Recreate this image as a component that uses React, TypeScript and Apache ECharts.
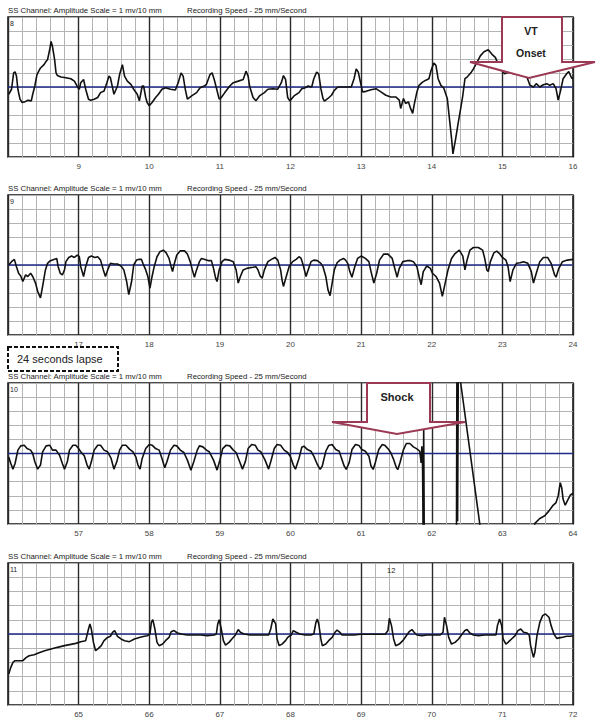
import React, { useEffect, useRef } from "react";
import * as echarts from "echarts";

// time window of each strip (seconds)
const stripStart = [8, 16, 56, 64];
const stripEnd = [16, 24, 64, 72];
const stripTop = [17, 195, 383, 563];
const stripNumbers = ["8", "9", "10", "11"];
const headerLeft = "SS Channel: Amplitude Scale = 1 mv/10 mm";
const headerRight = "Recording Speed - 25 mm/Second";

// ECG trace samples: [time (s), amplitude (grid units, 1 = 5 mm)]
const strip1: number[][] = [
  [8.01, -0.52], [8.05, -0.16], [8.08, 1.01], [8.10, 1.08], [8.12, 0.78], [8.14, -0.16], [8.17, -0.87], [8.20, -1.11],
  [8.24, -1.06], [8.28, -0.94], [8.33, -0.99], [8.35, -0.52], [8.38, 0.07], [8.41, 0.89], [8.46, 1.36], [8.51, 1.60],
  [8.54, 1.84], [8.56, 1.95], [8.59, 2.66], [8.61, 3.25], [8.63, 2.89], [8.66, 1.95], [8.68, 1.01], [8.70, 0.82],
  [8.75, 0.71], [8.82, 0.66], [8.89, 0.59], [8.94, 0.42], [8.99, -0.05], [9.01, -0.16], [9.03, 0.31], [9.07, 0.54],
  [9.10, -0.16], [9.14, -0.87], [9.17, -0.94], [9.22, -0.87], [9.27, -0.75], [9.31, -0.40], [9.36, -0.28], [9.40, 0.31],
  [9.43, 0.78], [9.45, 0.66], [9.48, -0.05], [9.50, -0.52], [9.55, 0.07], [9.58, 0.89], [9.62, 1.60], [9.65, 0.78],
  [9.69, 0.42], [9.74, 0.19], [9.78, -0.16], [9.83, -0.52], [9.86, -0.99], [9.90, 0.07], [9.92, 0.07], [9.95, -0.75],
  [9.97, -1.11], [10.00, -1.34], [10.04, -1.11], [10.09, -0.75], [10.13, -0.52], [10.18, -0.16], [10.23, -0.05], [10.30, -0.16],
  [10.37, -0.21], [10.41, 0.31], [10.45, 1.01], [10.48, 0.78], [10.51, -0.16], [10.54, -0.87], [10.60, -0.64], [10.67, -0.40],
  [10.72, -0.05], [10.78, 0.07], [10.81, 0.19], [10.86, 0.89], [10.89, 1.01], [10.92, 0.54], [10.95, -0.05], [10.99, -0.87],
  [11.02, -0.75], [11.07, -0.40], [11.14, 0.07], [11.19, 0.31], [11.26, 0.42], [11.33, 0.54], [11.37, 1.13], [11.40, 0.78],
  [11.42, 0.07], [11.47, -0.75], [11.51, -0.99], [11.56, -0.64], [11.63, -0.40], [11.68, -0.16], [11.75, -0.12], [11.82, -0.16],
  [11.87, 0.31], [11.90, 0.82], [11.93, 0.54], [11.96, -0.75], [11.99, -0.99], [12.05, -0.64], [12.12, -0.40], [12.16, -0.12],
  [12.20, -0.07], [12.25, 0.07], [12.30, 0], [12.33, 0.59], [12.37, 1.06], [12.40, 0.94], [12.43, -0.12], [12.46, -0.82],
  [12.48, -1.01], [12.53, -0.82], [12.58, -0.59], [12.62, -0.24], [12.67, 0], [12.77, 0], [12.86, 0], [12.90, 0.59],
  [12.93, 1.29], [12.96, 1.06], [12.99, 0.35], [13.02, -0.35], [13.07, -0.31], [13.14, -0.19], [13.21, -0.12], [13.28, -0.35],
  [13.35, -0.59], [13.42, -0.71], [13.49, -0.71], [13.54, -0.94], [13.56, -1.53], [13.60, -0.82], [13.63, -1.18], [13.67, -1.06],
  [13.70, -1.53], [13.73, -1.88], [13.75, -1.29], [13.79, -0.35], [13.82, 0.12], [13.87, 0.35], [13.91, 0.47], [13.96, 0.59],
  [13.99, 1.18], [14.03, 1.72], [14.06, 1.53], [14.09, 0.59], [14.13, 0.12], [14.17, -0.07], [14.22, -0.82], [14.25, -2.24],
  [14.28, -3.65], [14.30, -4.78], [14.34, -3.65], [14.37, -2.71], [14.41, -1.53], [14.44, -0.59], [14.47, 0.59], [14.50, 0.71],
  [14.52, 0.82], [14.56, 1.06], [14.59, 1.29], [14.64, 1.76], [14.69, 2.24], [14.74, 2.52], [14.80, 2.66], [14.85, 2.35],
  [14.90, 2.12], [14.95, 1.53], [14.98, 1.29], [15.03, 0.94], [15.09, 1.06], [15.16, 0.94], [15.25, 1.06], [15.34, 0.82],
  [15.39, 0.12], [15.44, 0], [15.48, 0.24], [15.53, 0], [15.58, 0.16], [15.63, 0.24], [15.67, 0.12], [15.72, 0.24],
  [15.76, -0.12], [15.79, -0.94], [15.82, -0.35], [15.86, 0.59], [15.91, 0.94], [15.94, 1.11], [15.98, 0.64], [16.00, 0.59],
];

const strip2: number[][] = [
  [16.01, 0], [16.05, 0.24], [16.09, 0.40], [16.12, -0.12], [16.15, -0.59], [16.18, -0.78], [16.21, -1.18], [16.25, -0.71],
  [16.28, -0.82], [16.32, -0.59], [16.35, -0.82], [16.39, -1.29], [16.42, -1.88], [16.46, -2.35], [16.49, -1.53], [16.53, -0.35],
  [16.56, 0.12], [16.60, 0.31], [16.65, 0.40], [16.69, 0.47], [16.71, -0.12], [16.74, -0.59], [16.77, -0.71], [16.80, -0.35],
  [16.82, 0.24], [16.86, 0.54], [16.90, 0.64], [16.94, 0.54], [16.98, 0.71], [17.01, 0.59], [17.03, -0.12], [17.07, -0.82],
  [17.10, -0.12], [17.14, 0.54], [17.18, 0.64], [17.23, 0.54], [17.27, 0.59], [17.31, 0.35], [17.35, -0.35], [17.38, -0.82],
  [17.42, -0.24], [17.45, 0.12], [17.50, 0.07], [17.55, 0.07], [17.60, -0.07], [17.64, -0.35], [17.68, -1.18], [17.71, -2.12],
  [17.75, -1.18], [17.78, 0], [17.82, 0.35], [17.85, 0.40], [17.89, 0.40], [17.91, 0.12], [17.95, -0.35], [17.98, -0.82],
  [18.01, -1.65], [18.04, -0.82], [18.07, -0.12], [18.11, 0.59], [18.15, 0.94], [18.20, 1.06], [18.24, 0.87], [18.28, 0.47],
  [18.31, -0.12], [18.33, -0.47], [18.35, 0], [18.39, 0.71], [18.44, 1.01], [18.50, 1.01], [18.54, 0.78], [18.58, 0.24],
  [18.61, -0.35], [18.64, -0.87], [18.67, -0.35], [18.71, 0.24], [18.74, 0.47], [18.79, 0.40], [18.84, 0.31], [18.88, 0.31],
  [18.91, -0.24], [18.94, -0.94], [18.96, -1.18], [18.99, -0.35], [19.03, 0.24], [19.07, 0.40], [19.13, 0.35], [19.19, 0.24],
  [19.23, -0.35], [19.26, -1.29], [19.29, -0.82], [19.33, -0.35], [19.38, -0.24], [19.43, -0.19], [19.47, -0.16], [19.51, -0.12],
  [19.54, -0.35], [19.57, -0.78], [19.60, -0.94], [19.63, -0.35], [19.68, 0.24], [19.73, 0.40], [19.78, 0.54], [19.82, 0.35],
  [19.86, -0.35], [19.88, -1.06], [19.90, -1.53], [19.94, -0.82], [19.98, -0.12], [20.03, 0.24], [20.08, 0.40], [20.12, 0.59],
  [20.15, 0.47], [20.18, 0], [20.22, -0.82], [20.25, -0.35], [20.29, 0.24], [20.33, 0.35], [20.38, 0.31], [20.43, 0.12],
  [20.46, -0.12], [20.50, -0.82], [20.53, -1.76], [20.56, -2.19], [20.59, -1.29], [20.62, -0.35], [20.66, 0.16], [20.70, 0.35],
  [20.75, 0.47], [20.78, 0.35], [20.81, 0.12], [20.84, -0.47], [20.87, -0.87], [20.91, -0.12], [20.95, 0.47], [21.00, 0.64],
  [21.06, 0.47], [21.11, 0.24], [21.14, -0.47], [21.18, -1.29], [21.22, -0.59], [21.26, 0.35], [21.32, 0.78], [21.38, 0.78],
  [21.44, 0.47], [21.47, -0.12], [21.51, -0.87], [21.54, -0.24], [21.59, 0.24], [21.65, 0.31], [21.70, 0.31], [21.74, 0.24],
  [21.79, -0.12], [21.82, -0.82], [21.85, -1.41], [21.88, -0.47], [21.93, -0.07], [21.98, -0.24], [22.01, -0.59], [22.06, -0.82],
  [22.11, -1.29], [22.15, -2.24], [22.19, -1.29], [22.23, -0.35], [22.28, 0.47], [22.33, 0.82], [22.39, 1.06], [22.44, 0.64],
  [22.47, -0.35], [22.50, 0.35], [22.54, 1.06], [22.59, 1.25], [22.66, 1.25], [22.72, 1.06], [22.75, 0.47], [22.78, -0.35],
  [22.80, -0.47], [22.83, 0.24], [22.88, 0.87], [22.92, 0.99], [22.96, 0.82], [23.00, 0.54], [23.05, 0.35], [23.08, -0.12],
  [23.11, -1.18], [23.15, -0.35], [23.20, 0.12], [23.25, 0.16], [23.30, 0.24], [23.36, 0.12], [23.41, -0.47], [23.44, -1.29],
  [23.48, -0.59], [23.53, 0.24], [23.58, 0.54], [23.64, 0.54], [23.69, 0.12], [23.74, -0.71], [23.76, -0.87], [23.80, -0.24],
  [23.85, 0.24], [23.92, 0.35], [24.00, 0.40],
];

const strip3: number[][] = [
  [56.01, -0.24], [56.04, -0.71], [56.07, -1.11], [56.10, -0.71], [56.14, 0.24], [56.18, 0.54], [56.23, 0.59], [56.27, 0.35],
  [56.32, 0.24], [56.35, 0], [56.38, -0.59], [56.42, -1.11], [56.46, -0.82], [56.49, 0.12], [56.54, 0.54], [56.59, 0.59],
  [56.63, 0.24], [56.68, 0.24], [56.73, -0.12], [56.77, -0.71], [56.80, -1.11], [56.84, -0.59], [56.87, 0.24], [56.92, 0.59],
  [56.96, 0.59], [57.00, 0.35], [57.03, 0.12], [57.08, -0.16], [57.12, -0.82], [57.15, -1.11], [57.18, -0.59], [57.22, 0.24],
  [57.27, 0.59], [57.31, 0.59], [57.36, 0.24], [57.41, 0.12], [57.46, -0.35], [57.50, -1.11], [57.54, -0.59], [57.58, 0.24],
  [57.62, 0.59], [57.67, 0.59], [57.72, 0.31], [57.77, 0.12], [57.81, -0.24], [57.84, -0.82], [57.87, -1.11], [57.90, -0.35],
  [57.95, 0.35], [58.00, 0.64], [58.04, 0.59], [58.09, 0.35], [58.14, 0.24], [58.18, -0.35], [58.22, -1.01], [58.25, -0.59],
  [58.30, 0.24], [58.35, 0.59], [58.39, 0.54], [58.44, 0.24], [58.49, 0.07], [58.54, -0.47], [58.59, -1.18], [58.63, -0.59],
  [58.68, 0.24], [58.71, 0.54], [58.76, 0.47], [58.81, 0.24], [58.85, 0.12], [58.91, -0.47], [58.96, -1.18], [59.00, -0.47],
  [59.04, 0.35], [59.09, 0.59], [59.14, 0.54], [59.19, 0.24], [59.23, 0.07], [59.28, -0.59], [59.32, -1.11], [59.36, -0.59],
  [59.40, 0.35], [59.45, 0.64], [59.50, 0.59], [59.54, 0.24], [59.58, 0.12], [59.64, -0.47], [59.69, -1.11], [59.72, -0.59],
  [59.77, 0.35], [59.81, 0.64], [59.86, 0.59], [59.91, 0.24], [59.96, 0.07], [60.00, -0.24], [60.04, -0.82], [60.07, -1.11],
  [60.12, -0.35], [60.16, 0.45], [60.19, 0.52], [60.24, 0.28], [60.29, 0.16], [60.33, -0.19], [60.38, -0.78], [60.42, -1.13],
  [60.45, -0.89], [60.50, 0.16], [60.54, 0.56], [60.59, 0.64], [60.64, 0.28], [60.69, 0.16], [60.72, -0.31], [60.76, -0.89],
  [60.79, -1.13], [60.83, -0.66], [60.87, 0.28], [60.92, 0.64], [60.97, 0.56], [61.01, 0.28], [61.06, 0.16], [61.11, -0.19],
  [61.14, -0.89], [61.17, -1.13], [61.20, -0.66], [61.25, 0.28], [61.30, 0.64], [61.34, 0.56], [61.39, 0.28], [61.42, 0.05],
  [61.46, -0.42], [61.50, -1.01], [61.52, -1.13], [61.55, -0.66], [61.60, 0.28], [61.64, 0.71], [61.69, 0.71], [61.74, 0.47],
  [61.79, 0.33], [61.83, 0.16], [61.85, -0.66], [61.86, 0.52], [61.87, -0.89], [61.878, -6], [61.886, 1.8], [61.894, -6],
  [62.35, -6], [62.356, 6], [62.366, -4.8], [62.376, 6], [62.41, 5.0], [62.68, -5.0], [62.70, -6], [63.44, -6],
  [63.46, -4.96], [63.53, -4.61], [63.60, -4.42], [63.66, -4.07], [63.71, -3.72], [63.76, -3.48], [63.79, -3.01], [63.82, -2.07],
  [63.84, -2.42], [63.86, -3.25], [63.89, -3.67], [63.92, -3.36], [63.96, -2.96], [64.00, -2.82],
];

const strip4: number[][] = [
  [64.01, -2.82], [64.04, -2.35], [64.07, -2.00], [64.10, -1.88], [64.16, -1.88], [64.21, -1.88], [64.26, -1.65], [64.30, -1.53],
  [64.37, -1.46], [64.44, -1.32], [64.52, -1.18], [64.61, -1.06], [64.70, -0.94], [64.80, -0.82], [64.89, -0.73], [64.96, -0.66],
  [65.03, -0.54], [65.10, -0.47], [65.14, 0.35], [65.16, 0.71], [65.18, 0.35], [65.21, -0.59], [65.24, -1.18], [65.28, -1.01],
  [65.32, -0.82], [65.36, -0.47], [65.41, -0.24], [65.45, -0.16], [65.48, 0.12], [65.51, 0.24], [65.55, -0.16], [65.60, -0.35],
  [65.65, -0.47], [65.72, -0.54], [65.79, -0.35], [65.86, -0.24], [65.93, -0.16], [65.97, -0.12], [66.01, 0], [66.03, 0.82],
  [66.05, 1.01], [66.08, 0.35], [66.11, -0.59], [66.14, -0.82], [66.19, -0.71], [66.23, -0.47], [66.28, -0.24], [66.31, 0.16],
  [66.35, 0.24], [66.40, 0.07], [66.47, -0.02], [66.54, -0.07], [66.63, -0.07], [66.73, -0.07], [66.82, -0.12], [66.92, -0.07],
  [66.95, 0], [66.97, 0.71], [66.99, 1.01], [67.02, 0.35], [67.05, -0.47], [67.08, -0.78], [67.13, -0.59], [67.17, -0.35],
  [67.22, -0.07], [67.26, 0.31], [67.29, 0.12], [67.34, 0], [67.43, -0.07], [67.53, -0.07], [67.62, -0.07], [67.69, -0.07],
  [67.72, 0.35], [67.75, 1.06], [67.79, 0.71], [67.81, -0.35], [67.84, -0.82], [67.88, -0.71], [67.93, -0.47], [67.96, -0.24],
  [68.01, -0.07], [68.04, 0.24], [68.08, 0.12], [68.13, 0], [68.21, -0.07], [68.29, -0.07], [68.33, 0], [68.36, 0.82],
  [68.38, 1.06], [68.40, 0.71], [68.43, -0.35], [68.45, -0.82], [68.50, -0.71], [68.54, -0.47], [68.59, -0.24], [68.63, 0.12],
  [68.66, 0.28], [68.70, 0.12], [68.73, -0.07], [68.80, -0.07], [68.90, -0.07], [68.99, -0.02], [69.08, -0.02], [69.18, -0.02],
  [69.34, -0.02], [69.38, 0.24], [69.40, 1.11], [69.43, 0.59], [69.46, -0.35], [69.49, -0.82], [69.54, -0.71], [69.59, -0.47],
  [69.64, -0.12], [69.68, 0.16], [69.72, 0.31], [69.75, 0.12], [69.79, -0.07], [69.86, -0.12], [69.93, -0.07], [70.02, -0.07],
  [70.12, -0.07], [70.16, 0.12], [70.18, 1.18], [70.21, 0.59], [70.24, -0.24], [70.28, -0.71], [70.33, -0.59], [70.38, -0.35],
  [70.42, -0.07], [70.47, 0.24], [70.50, 0.31], [70.54, 0.07], [70.59, -0.07], [70.66, -0.12], [70.75, -0.07], [70.85, -0.07],
  [70.91, -0.07], [70.93, 0.59], [70.96, 1.06], [70.99, 0.59], [71.01, -0.35], [71.05, -0.71], [71.08, -0.59], [71.13, -0.35],
  [71.18, -0.12], [71.22, 0.24], [71.26, 0.35], [71.30, 0.12], [71.35, 0.07], [71.38, -0.07], [71.40, -0.82], [71.44, -1.65],
  [71.46, -1.29], [71.49, -0.12], [71.53, 0.82], [71.57, 1.29], [71.61, 1.41], [71.66, 1.18], [71.69, 0.59], [71.73, 0],
  [71.77, -0.31], [71.84, -0.24], [71.91, -0.16], [71.96, -0.16], [72.00, -0.12],
];

const traces = [strip1, strip2, strip3, strip4];

const FONT = "Liberation Sans, Arial, sans-serif";

function txt(text: string, x: number, y: number, fontSize: number, extra: any = {}) {
  return {
    type: "text",
    z: 100,
    style: {
      text,
      x,
      y,
      fill: extra.fill || "#222",
      font: `${extra.weight || "normal"} ${fontSize}px ${FONT}`,
      textAlign: extra.align || "left",
      textVerticalAlign: "middle",
      align: extra.align || "left",
      verticalAlign: "middle",
    },
  };
}

export default function App() {
  const ref = useRef<HTMLDivElement>(null);
  useEffect(() => {
    if (!ref.current) return;
    const chart = echarts.init(ref.current, undefined, { renderer: "svg" });
    const heights = [140, 140, 141, 142];
    const grids = stripTop.map((top, i) => ({
      left: 8,
      width: 565,
      top,
      height: heights[i],
      show: true,
      borderColor: "#111",
      borderWidth: 1.5,
      backgroundColor: "#fff",
    }));
    const xAxes = stripStart.map((min, i) => ({
      gridIndex: i,
      type: "value",
      min,
      max: stripEnd[i],
      interval: 1,
      axisLine: { show: false },
      axisTick: { show: false },
      axisLabel: { showMinLabel: false, fontSize: 8, color: "#444", margin: 5, fontFamily: FONT },
      splitLine: { show: true, lineStyle: { color: "#2a2a2a", width: 1.4 } },
      minorTick: { show: false, splitNumber: 5 },
      minorSplitLine: { show: true, lineStyle: { color: "#b4b4b4", width: 1 } },
    }));
    const yAxes = stripStart.map((_, i) => ({
      gridIndex: i,
      type: "value",
      min: -5,
      max: 5,
      interval: 1,
      axisLine: { show: false },
      axisTick: { show: false },
      axisLabel: { show: false },
      splitLine: { show: true, lineStyle: { color: "#b4b4b4", width: 1 } },
    }));
    const series: any[] = [];
    traces.forEach((data, i) => {
      series.push({
        type: "line",
        xAxisIndex: i,
        yAxisIndex: i,
        data: [[stripStart[i], 0], [stripEnd[i], 0]],
        showSymbol: false,
        silent: true,
        lineStyle: { color: "#1f2a86", width: 1.5 },
        z: 2,
      });
      series.push({
        type: "line",
        xAxisIndex: i,
        yAxisIndex: i,
        data,
        showSymbol: false,
        clip: true,
        silent: true,
        lineStyle: { color: "#111", width: 1.6 },
        z: 3,
      });
    });

    const arrowColor = "#9c3a55";
    const graphic: any[] = [];
    stripTop.forEach((top, i) => {
      graphic.push(txt(headerLeft, 8, top - 7, 7.8));
      graphic.push(txt(headerRight, 187, top - 7, 7.8));
      graphic.push(txt(stripNumbers[i], 10, top + 6, 7));
    });
    graphic.push(txt("12", 387, 570, 7.5));
    // 24 seconds lapse box
    graphic.push({
      type: "rect",
      z: 100,
      shape: { x: 8, y: 347, width: 110, height: 24 },
      style: { fill: "#fff", stroke: "#111", lineWidth: 2, lineDash: [4, 2] },
    });
    graphic.push(txt("24 seconds lapse", 17, 359, 11));
    // VT onset arrow
    graphic.push({
      type: "polygon",
      z: 100,
      shape: { points: [[502, 17], [562, 17], [562, 62], [595, 62], [529, 78], [470, 62], [502, 62]] },
      style: { fill: "#fff", stroke: arrowColor, lineWidth: 2 },
    });
    graphic.push(txt("VT", 531, 31, 10.5, { align: "center", weight: "bold" }));
    graphic.push(txt("Onset", 531, 53, 10.5, { align: "center", weight: "bold" }));
    // Shock arrow
    graphic.push({
      type: "polygon",
      z: 100,
      shape: { points: [[367, 383], [430, 383], [430, 422], [465, 422], [397, 434], [332, 422], [367, 422]] },
      style: { fill: "#fff", stroke: arrowColor, lineWidth: 2 },
    });
    graphic.push(txt("Shock", 397, 397, 11, { align: "center", weight: "bold" }));

    chart.setOption({
      animation: false,
      backgroundColor: "#fff",
      grid: grids,
      xAxis: xAxes,
      yAxis: yAxes,
      series,
      graphic,
    });
    return () => chart.dispose();
  }, []);
  return (
    <div
      ref={ref}
      style={{ position: "fixed", left: 0, top: 0, width: 600, height: 722, background: "#fff" }}
    />
  );
}
